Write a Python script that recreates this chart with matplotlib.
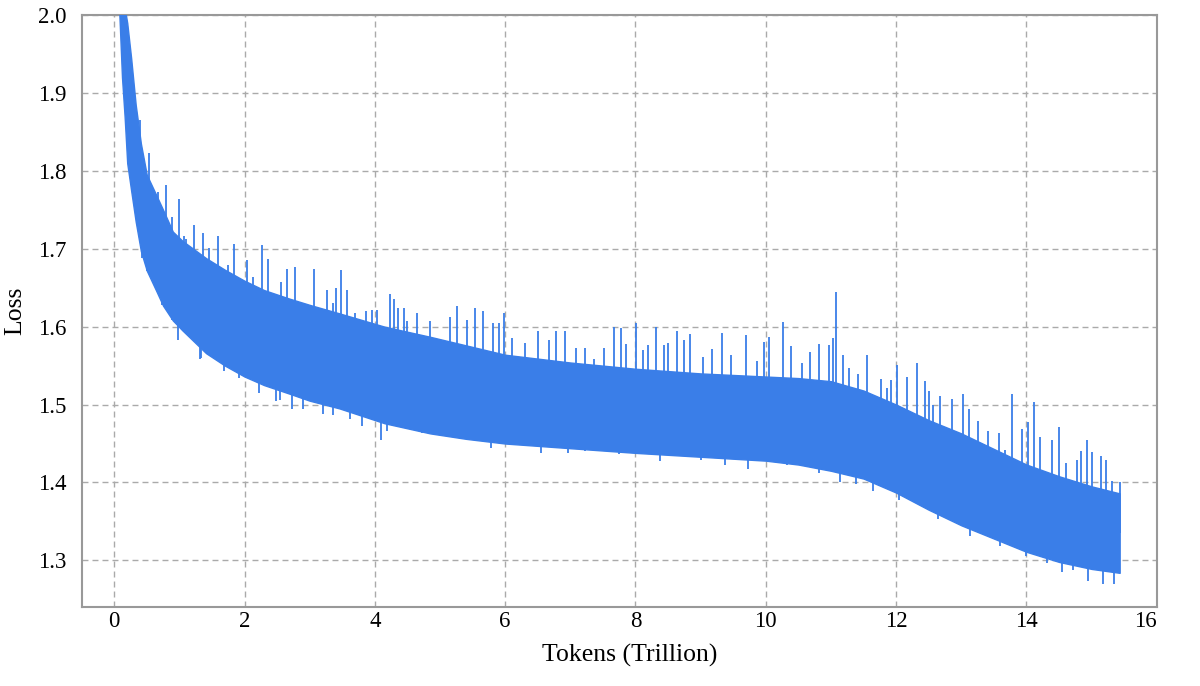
import numpy as np
import matplotlib
matplotlib.use("Agg")
import matplotlib.pyplot as plt

# training loss curve (tokens in trillions)
# visible body of the noisy band
env_x = [0.05, 0.08, 0.12, 0.16, 0.20, 0.26, 0.33, 0.41, 0.50, 0.64, 0.75,
         0.90, 1.05, 1.41, 1.7, 2.0, 2.3, 2.69, 3.0, 3.46, 4.15, 4.85, 5.4,
         6.0, 7.0, 8.0, 9.0, 10.0, 10.5, 11.0, 11.5, 12.0, 12.5, 13.0, 13.5,
         14.0, 14.5, 15.0, 15.43]
env_lo = [2.10, 2.00, 1.92, 1.87, 1.81, 1.775, 1.735, 1.697, 1.672, 1.647,
          1.627, 1.608, 1.595, 1.566, 1.55, 1.536, 1.525, 1.514, 1.505, 1.495,
          1.476, 1.463, 1.456, 1.45, 1.444, 1.438, 1.433, 1.428, 1.423, 1.415,
          1.405, 1.387, 1.365, 1.345, 1.328, 1.311, 1.298, 1.289, 1.284]
env_hi = [2.15, 2.10, 2.05, 2.01, 1.99, 1.945, 1.885, 1.835, 1.795, 1.77,
          1.75, 1.722, 1.71, 1.688, 1.673, 1.659, 1.647, 1.636, 1.628, 1.617,
          1.60, 1.587, 1.576, 1.564, 1.554, 1.546, 1.54, 1.536, 1.534, 1.53,
          1.518, 1.50, 1.48, 1.463, 1.443, 1.423, 1.408, 1.395, 1.386]

# upward loss spikes
up_x = [0.39, 0.54, 0.67, 0.80, 0.887, 0.99, 1.077, 1.10, 1.23, 1.36, 1.46,
        1.60, 1.74, 1.835, 2.04, 2.13, 2.27, 2.36, 2.56, 2.65, 2.78, 2.88,
        3.06, 3.18, 3.26, 3.36, 3.41, 3.48, 3.57, 3.69, 3.87, 3.96, 4.03,
        4.23, 4.30, 4.35, 4.44, 4.50, 4.65, 4.85, 5.16, 5.26, 5.42, 5.54,
        5.66, 5.82, 5.91, 5.98, 6.10, 6.31, 6.51, 6.67, 6.78, 6.92, 7.08,
        7.22, 7.36, 7.52, 7.67, 7.78, 7.85, 8.01, 8.12, 8.19, 8.31, 8.44,
        8.50, 8.63, 8.74, 8.84, 9.03, 9.17, 9.33, 9.46, 9.70, 9.87, 9.97,
        10.05, 10.27, 10.38, 10.56, 10.68, 10.82, 10.97, 11.03, 11.08, 11.18,
        11.28, 11.41, 11.55, 11.77, 11.86, 11.92, 12.01, 12.17, 12.32, 12.45,
        12.51, 12.57, 12.68, 12.85, 13.02, 13.12, 13.26, 13.41, 13.58, 13.67,
        13.78, 13.93, 14.03, 14.12, 14.21, 14.39, 14.50, 14.61, 14.78, 14.83,
        14.93, 15.00, 15.14, 15.22, 15.31, 15.43]
up_y = [1.865, 1.823, 1.773, 1.782, 1.741, 1.764, 1.716, 1.712, 1.731, 1.72,
        1.701, 1.716, 1.679, 1.706, 1.686, 1.664, 1.705, 1.687, 1.658, 1.674,
        1.677, 1.630, 1.674, 1.622, 1.647, 1.63, 1.65, 1.673, 1.647, 1.618,
        1.62, 1.622, 1.622, 1.642, 1.635, 1.624, 1.624, 1.607, 1.617, 1.607,
        1.612, 1.627, 1.609, 1.624, 1.62, 1.605, 1.605, 1.618, 1.586, 1.579,
        1.594, 1.583, 1.594, 1.594, 1.573, 1.573, 1.558, 1.573, 1.60, 1.598,
        1.578, 1.605, 1.570, 1.577, 1.60, 1.577, 1.579, 1.594, 1.583, 1.591,
        1.561, 1.571, 1.592, 1.564, 1.589, 1.556, 1.58, 1.587, 1.606, 1.575,
        1.553, 1.568, 1.578, 1.577, 1.585, 1.644, 1.564, 1.547, 1.539, 1.564,
        1.533, 1.521, 1.532, 1.551, 1.536, 1.553, 1.530, 1.517, 1.499, 1.511,
        1.507, 1.513, 1.494, 1.479, 1.466, 1.464, 1.442, 1.513, 1.469, 1.477,
        1.503, 1.459, 1.455, 1.471, 1.425, 1.429, 1.44, 1.454, 1.439, 1.434,
        1.429, 1.402, 1.40]

# downward loss spikes
dn_x = [0.43, 0.51, 0.74, 0.88, 0.98, 1.15, 1.31, 1.33, 1.69, 1.92, 2.23,
        2.48, 2.54, 2.73, 2.89, 3.2, 3.36, 3.62, 3.81, 4.09, 4.18, 4.38, 4.72,
        4.97, 5.36, 5.79, 6.0, 6.26, 6.55, 6.96, 7.23, 7.54, 7.74, 7.92, 8.38,
        9.0, 9.38, 9.72, 9.97, 10.33, 10.82, 11.14, 11.38, 11.64, 11.74,
        12.05, 12.31, 12.64, 12.85, 13.13, 13.41, 13.6, 14.0, 14.31, 14.54,
        14.72, 14.95, 15.18, 15.34]
dn_y = [1.688, 1.671, 1.628, 1.609, 1.583, 1.59, 1.558, 1.56, 1.543, 1.534,
        1.515, 1.505, 1.506, 1.494, 1.494, 1.488, 1.487, 1.482, 1.472, 1.455,
        1.466, 1.472, 1.464, 1.464, 1.457, 1.444, 1.449, 1.449, 1.438, 1.438,
        1.44, 1.442, 1.436, 1.449, 1.427, 1.429, 1.423, 1.417, 1.427, 1.423,
        1.412, 1.401, 1.398, 1.389, 1.396, 1.378, 1.374, 1.353, 1.357, 1.331,
        1.333, 1.319, 1.306, 1.297, 1.285, 1.288, 1.274, 1.27, 1.27]

x_ticks = [0, 2, 4, 6, 8, 10, 12, 14, 16]
y_ticks = [1.3, 1.4, 1.5, 1.6, 1.7, 1.8, 1.9, 2.0]

blue = "#3a7ee8"

plt.rcParams["font.family"] = ["Liberation Serif", "DejaVu Serif"]
fig = plt.figure(figsize=(12, 6.86), dpi=100)
ax = fig.add_axes([0.068, 0.115, 0.896, 0.863])

mid = (np.array(env_lo) + np.array(env_hi)) / 2
ax.fill_between(env_x, env_lo, env_hi, color=blue, lw=1.0, zorder=3)
ax.vlines(up_x, np.interp(up_x, env_x, mid), up_y, color=blue, lw=1.3, zorder=3)
ax.vlines(dn_x, dn_y, np.interp(dn_x, env_x, mid), color=blue, lw=1.3, zorder=3)

ax.set_xlim(-0.5, 16)
ax.set_ylim(1.24, 2.0)
ax.set_xticks(x_ticks)
ax.set_yticks(y_ticks)
ax.set_xticklabels([str(t) for t in x_ticks])
ax.set_yticklabels(["%.1f" % t for t in y_ticks])
ax.get_xticklabels()[-1].set_horizontalalignment("right")
ax.tick_params(axis="both", length=0, labelsize=16.5)
ax.tick_params(axis="y", pad=11)
ax.tick_params(axis="x", pad=3)

ax.grid(True, color="#aaaaaa", lw=1.0, linestyle=(0, (4.3, 2.9)), zorder=1)
for s in ax.spines.values():
    s.set_color("#999999")
    s.set_linewidth(1.5)

ax.set_xlabel("Tokens (Trillion)", fontsize=18.5)
ax.xaxis.set_label_coords(0.51, -0.062)
ax.set_ylabel("Loss", fontsize=18.5, labelpad=8)

fig.savefig("out.png", dpi=100)
